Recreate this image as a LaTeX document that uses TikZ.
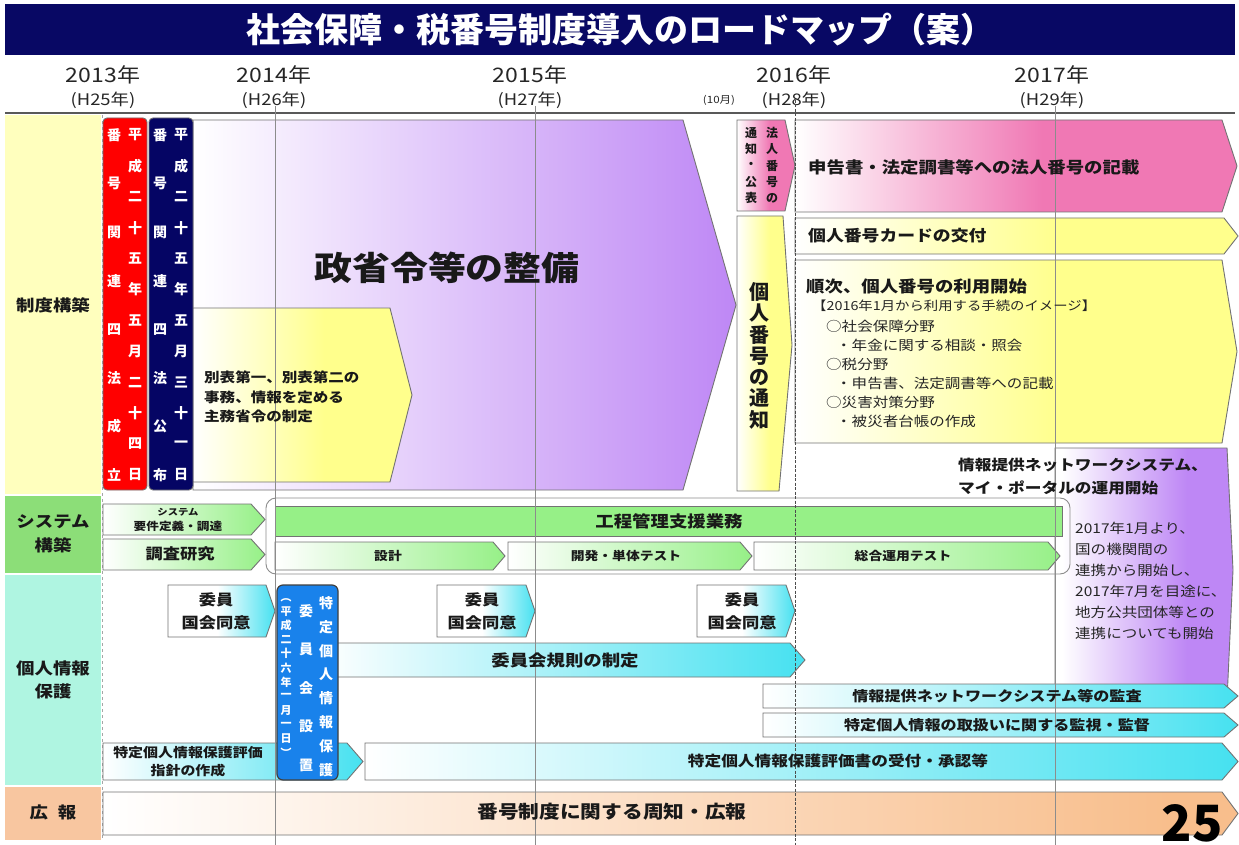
\documentclass[tikz,border=0pt]{standalone}
\usepackage{fontspec}
\setmainfont{Noto Sans CJK JP}[FakeStretch=1.15]
\newfontfamily\tfont{Noto Sans CJK JP}
\newcommand{\fsz}[2]{\fontsize{#1}{#2}\selectfont}
\definecolor{titleblue}{RGB}{8,8,100}
\definecolor{labY}{RGB}{255,255,190}
\definecolor{labG}{RGB}{140,222,120}
\definecolor{labC}{RGB}{175,245,225}
\definecolor{labO}{RGB}{248,198,160}
\definecolor{redB}{RGB}{255,0,0}
\definecolor{navyB}{RGB}{5,5,100}
\definecolor{purp}{RGB}{190,135,245}
\definecolor{yel}{RGB}{255,255,140}
\definecolor{pinkc}{RGB}{240,120,180}
\definecolor{grn}{RGB}{150,240,135}
\definecolor{cyn}{RGB}{70,225,240}
\definecolor{blu}{RGB}{25,130,235}
\definecolor{org}{RGB}{248,190,140}
\pgfdeclarehorizontalshading{shPurple}{100bp}{color(0bp)=(white); color(25bp)=(white); color(75bp)=(purp); color(100bp)=(purp)}
\pgfdeclarehorizontalshading{shPurR}{100bp}{color(0bp)=(white); color(27bp)=(white); color(62bp)=(purp); color(100bp)=(purp)}
\pgfdeclarehorizontalshading{shYel}{100bp}{color(0bp)=(white); color(25bp)=(white); color(55bp)=(yel); color(100bp)=(yel)}
\pgfdeclarehorizontalshading{shPink}{100bp}{color(0bp)=(white); color(25bp)=(white); color(53bp)=(pinkc); color(100bp)=(pinkc)}
\pgfdeclarehorizontalshading{shGrn}{100bp}{color(0bp)=(white); color(25bp)=(white); color(75bp)=(grn); color(100bp)=(grn)}
\pgfdeclarehorizontalshading{shCyn}{100bp}{color(0bp)=(white); color(25bp)=(white); color(75bp)=(cyn); color(100bp)=(cyn)}
\pgfdeclarehorizontalshading{shCynLate}{100bp}{color(0bp)=(white); color(48bp)=(white); color(75bp)=(cyn); color(100bp)=(cyn)}
\pgfdeclarehorizontalshading{shOrg}{100bp}{color(0bp)=(white); color(25bp)=(white); color(72bp)=(org); color(100bp)=(org)}
\tikzset{
  ol/.style={draw=black!55, line width=0.9pt},
  tb/.style={font=\bfseries\fsz{#1}{#1}, inner sep=0pt, text=black!90},
  tr/.style={font=\fsz{#1}{#1}, inner sep=0pt, text=black!85},
  vw/.style={font=\tfont\bfseries\fsz{#1}{#1}, inner sep=0pt, text=white},
  vb/.style={font=\tfont\bfseries\fsz{#1}{#1}, inner sep=0pt, text=black!90},
  yearf/.style={font=\fsz{#1}{#1}, inner sep=0pt, text=black!85},
  gridl/.style={draw=black!45, line width=0.8pt},
  shd/.style={shade, shading=#1, ol},
}
\newcommand{\arrowpoly}[7]{%
  \path[#7] (#2,#3) -- ({#4-#6},#3) -- (#4,{(#3+#5)/2}) -- ({#4-#6},#5) -- (#2,#5) -- cycle;
  \coordinate (#1) at ({(#2+#4-#6)/2},{(#3+#5)/2});}
\newcommand{\vcol}[6]{\foreach \ch [count=\i] in {#6} {\node[#5] (#1-\i) at (#2,{#3+(\i-1)*#4}) {\ch};}}
\begin{document}
\begin{tikzpicture}[x=1pt,y=-1pt]
\useasboundingbox (0,0) rectangle (1239,845);
\fill[white] (0,0) rectangle (1239,845);
% title
\fill[titleblue] (5,4) rectangle (1235,55);
\node[font=\tfont\bfseries\fsz{34}{34}, text=white, inner sep=0pt] (title) at (620,30) {社会保障・税番号制度導入のロードマップ（案）};
% years
\foreach \x/\yy/\h [count=\k] in {103/2013/H25, 274/2014/H26, 530/2015/H27, 794/2016/H28, 1052/2017/H29} {
  \node[yearf=20] (yr\k) at (\x,75) {{\yy}年};
  \node[yearf=16] (h\k) at (\x,100) {({\h}年)};
}
\node[yearf=10] (oct) at (719,100) {(10月)};
\draw[line width=1.5pt, black!65] (5,113) -- (1235,113);
% label column
\fill[labY] (5,115) rectangle (101,494);
\fill[labG] (5,496) rectangle (101,573);
\fill[labC] (5,575) rectangle (101,785);
\fill[labO] (5,787) rectangle (101,840);
\draw[black!35, dashed, line width=0.6pt] (102,115) -- (102,840);
\node[tb=16] (labA) at (53,305) {制度構築};
\node[tb=16] (labB1) at (53,522) {システム};
\node[tb=16] (labB2) at (53,545) {構築};
\node[tb=16] (labC1) at (53,668) {個人情報};
\node[tb=16] (labC2) at (53,691) {保護};
\node[tb=16] (labD) at (53,812) {広\hspace{10pt}報};
% ---------- 制度構築 ----------
\path[shd=shPurple] (193,120) -- (683,120) -- (736,305) -- (683,490) -- (193,490) -- cycle;
\coordinate (bigpurp) at (445,305);
\arrowpoly{ysmall}{193}{308}{412}{482}{22}{shd=shYel}
\draw[ol, fill=redB, rounded corners=4] (103,118) rectangle (147,490);
\draw[ol, fill=navyB, rounded corners=4] (149,118) rectangle (193,490);
\vcol{ra}{114}{135}{48.6}{vw=14}{番,号,関,連,四,法,成,立}
\vcol{rb}{135}{135}{30.9}{vw=14}{平,成,二,十,五,年,五,月,二,十,四,日}
\vcol{na}{160}{135}{48.6}{vw=14}{番,号,関,連,四,法,公,布}
\vcol{nb}{181}{135}{30.9}{vw=14}{平,成,二,十,五,年,五,月,三,十,一,日}
\arrowpoly{hojin}{737}{120}{795}{211}{10}{shd=shPink}
\vcol{hja}{772}{133}{16.3}{vb=12}{法,人,番,号,の}
\vcol{hjb}{751}{133}{16.3}{vb=12}{通,知,・,公,表}
\path[shd=shYel] (737,216) -- (783,216) -- (792,345) -- (779,491) -- (737,491) -- cycle;
\vcol{kj}{759}{292}{21.3}{vb=20}{個,人,番,号,の,通,知}
\arrowpoly{apink}{795}{120}{1237}{212}{15}{shd=shPink}
\arrowpoly{acard}{795}{218}{1238}{254}{14}{shd=shYel}
\arrowpoly{ariyo}{795}{260}{1237}{443}{15}{shd=shYel}
\path[shd=shPurR] (1055,448) -- (1227,448) -- (1233,570) -- (1227,700) -- (1055,700) -- cycle;
% ---------- システム構築 ----------
\draw[black!45, line width=0.9pt, rounded corners=10] (266,498) rectangle (1070,574);
\arrowpoly{ayoken}{103}{504}{265}{535}{14}{shd=shGrn}
\arrowpoly{achosa}{103}{539}{265}{570}{14}{shd=shGrn}
\draw[ol, fill=grn] (275,506) rectangle (1062,536);
\arrowpoly{asekkei}{275}{542}{505}{570}{12}{shd=shGrn}
\arrowpoly{akaihatsu}{508}{542}{752}{570}{12}{shd=shGrn}
\arrowpoly{asogo}{754}{542}{1060}{570}{12}{shd=shGrn}
% ---------- 個人情報保護 ----------
\arrowpoly{aiin1}{168}{585}{275}{637}{9}{shd=shCynLate}
\arrowpoly{aiin2}{437}{585}{535}{637}{9}{shd=shCynLate}
\arrowpoly{aiin3}{697}{585}{795}{637}{9}{shd=shCynLate}
\arrowpoly{akisoku}{320}{643}{805}{677}{15}{shd=shCyn}
\arrowpoly{akansa}{763}{684}{1238}{708}{14}{shd=shCyn}
\arrowpoly{akanshi}{763}{713}{1238}{737}{14}{shd=shCyn}
\arrowpoly{ashishin}{103}{743}{363}{780}{16}{shd=shCyn}
\arrowpoly{ahyoka}{365}{743}{1238}{780}{16}{shd=shCyn}
\draw[draw=black!75, line width=1.2pt, fill=blu, rounded corners=6] (277,585) rectangle (338,780);
\vcol{ba}{326}{603}{23.9}{vw=14}{特,定,個,人,情,報,保,護}
\vcol{bb}{306}{611}{38.5}{vw=14}{委,員,会,設,置}
\vcol{bc}{286}{597}{14.2}{vw=11}{{\rotatebox{-90}{（}},平,成,二,十,六,年,一,月,一,日,{\rotatebox{-90}{）}}}
% ---------- 広報 ----------
\arrowpoly{akoho}{103}{792}{1238}{835}{16}{shd=shOrg}
% ---------- grid lines ----------
\draw[gridl] (275,106) -- (275,845);
\draw[gridl] (535,106) -- (535,845);
\draw[gridl] (1055,106) -- (1055,845);
\draw[black!70, line width=0.9pt, dash pattern=on 3pt off 1.5pt] (795,100) -- (795,845);
% ---------- texts ----------
\node[tb=33] (tseisho) at (447,268) {政省令等の整備};
\node[font=\bfseries\fsz{13.5}{19.5}, text=black!90, align=left, anchor=west, inner sep=0pt] (tbeppyo) at (204,397) {別表第一、別表第二の\\事務、情報を定める\\主務省令の制定};
\node[tb=16, anchor=west] (tpink) at (808,167) {申告書・法定調書等への法人番号の記載};
\node[tb=15.5, anchor=west] (tcard) at (808,236) {個人番号カードの交付};
\node[tb=16, anchor=west] (triyo) at (806,286) {順次、個人番号の利用開始};
\node[tr=12.5, anchor=west] (timage) at (812,306) {【2016年1月から利用する手続のイメージ】};
\node[tr=13.5, anchor=west] (tl1) at (826,326) {○社会保障分野};
\node[tr=13.5, anchor=west] (tl2) at (836,345) {・年金に関する相談・照会};
\node[tr=13.5, anchor=west] (tl3) at (826,364) {○税分野};
\node[tr=13.5, anchor=west] (tl4) at (836,383) {・申告書、法定調書等への記載};
\node[tr=13.5, anchor=west] (tl5) at (826,402) {○災害対策分野};
\node[tr=13.5, anchor=west] (tl6) at (836,421) {・被災者台帳の作成};
\node[tb=14.5, anchor=west] (tnet1) at (958,465) {情報提供ネットワークシステム、};
\node[tb=14.5, anchor=west] (tnet2) at (958,488) {マイ・ポータルの運用開始};
\foreach \t [count=\k] in {2017年1月より、,国の機関間の,連携から開始し、,2017年7月を目途に、,地方公共団体等との,連携についても開始} {
  \node[tr=13.5, anchor=west] (t17-\k) at (1075,{528+(\k-1)*21}) {\t};
}
\node[tb=9] (tyo1) at (178,512) {システム};
\node[tb=11] (tyo2) at (178,526) {要件定義・調達};
\node[tb=15] (tchosa) at (180,554) {調査研究};
\node[tb=16] (tkotei) at (669,521) {工程管理支援業務};
\node[tb=12] (tsekkei) at (388,556) {設計};
\node[tb=12] (tkaihatsu) at (626,556) {開発・単体テスト};
\node[tb=12] (tsogo) at (903,556) {総合運用テスト};
\foreach \x [count=\k] in {216,482,742} {
  \node[tb=15] (tiin\k) at (\x,600) {委員};
  \node[tb=15] (tkokkai\k) at (\x,623) {国会同意};
}
\node[tb=16] (tkisoku) at (565,660) {委員会規則の制定};
\node[tb=14] (tkansa) at (997,696) {情報提供ネットワークシステム等の監査};
\node[tb=14] (tkanshi) at (997,725) {特定個人情報の取扱いに関する監視・監督};
\node[tb=13] (tshishin1) at (188,753) {特定個人情報保護評価};
\node[tb=13] (tshishin2) at (188,771) {指針の作成};
\node[tb=14.5] (thyoka) at (838,761) {特定個人情報保護評価書の受付・承認等};
\node[tb=18] (tkoho) at (612,812) {番号制度に関する周知・広報};
\node[font=\tfont\bfseries\fsz{50}{50}, text=black, inner sep=0pt, anchor=south] (pagenum) at (1192,842) {25};
\end{tikzpicture}
\end{document}
